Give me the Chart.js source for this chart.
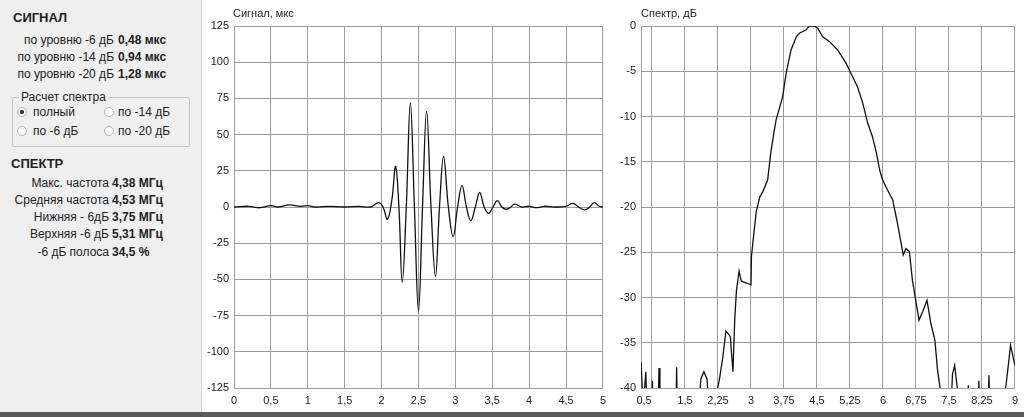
<!DOCTYPE html>
<html>
<head>
<meta charset="utf-8">
<script src="https://cdn.jsdelivr.net/npm/chart.js@4.4.1/dist/chart.umd.min.js"></script>
<style>
  html,body{margin:0;padding:0;background:#fff;}
  body{width:1024px;height:417px;position:relative;overflow:hidden;font-family:"Liberation Sans",Arial,sans-serif;color:#222;}
  #panel{position:absolute;left:0;top:0;width:201px;height:412px;background:#efefef;border-right:1px solid #d8d8d8;}
  .t{position:absolute;font-size:12px;white-space:nowrap;}
  .h{position:absolute;font-size:13px;font-weight:bold;}
  .lbl{position:absolute;font-size:12px;text-align:right;white-space:nowrap;}
  .val{position:absolute;font-size:12px;font-weight:bold;white-space:nowrap;}
  #grp{position:absolute;left:12px;top:97px;width:176px;height:48px;border:1px solid #c4c4c4;border-radius:2px;}
  #grpTitle{position:absolute;left:19px;top:90px;font-size:12px;background:#efefef;padding:0 2px;}
  .radio{position:absolute;width:8px;height:8px;border-radius:50%;border:1px solid #b8b8b8;background:#fafafa;}
  .radio.on::after{content:"";position:absolute;left:2px;top:2px;width:4px;height:4px;border-radius:50%;background:#222;}
  .ctitle{position:absolute;font-size:11px;color:#222;}
  #bottom{position:absolute;left:0;top:412px;width:1024px;height:5px;background:#5a5a5a;}
  .box{position:absolute;top:0;height:412px;}
</style>
</head>
<body>
<div id="panel">
  <div class="h" style="left:13px;top:10px;">СИГНАЛ</div>
  <div class="lbl" style="right:87px;top:33px;">по уровню -6 дБ</div><div class="val" style="left:118px;top:33px;">0,48 мкс</div>
  <div class="lbl" style="right:87px;top:50px;">по уровню -14 дБ</div><div class="val" style="left:118px;top:50px;">0,94 мкс</div>
  <div class="lbl" style="right:87px;top:67px;">по уровню -20 дБ</div><div class="val" style="left:118px;top:67px;">1,28 мкс</div>
  <div id="grp"></div>
  <div id="grpTitle">Расчет спектра</div>
  <div class="radio on" style="left:17px;top:107px;"></div><div class="t" style="left:33px;top:105px;">полный</div>
  <div class="radio" style="left:104px;top:107px;"></div><div class="t" style="left:118px;top:105px;">по -14 дБ</div>
  <div class="radio" style="left:17px;top:126px;"></div><div class="t" style="left:33px;top:124px;">по -6 дБ</div>
  <div class="radio" style="left:104px;top:126px;"></div><div class="t" style="left:118px;top:124px;">по -20 дБ</div>
  <div class="h" style="left:11px;top:156px;">СПЕКТР</div>
  <div class="lbl" style="right:92px;top:176px;">Макс. частота</div><div class="val" style="left:112px;top:176px;">4,38 МГц</div>
  <div class="lbl" style="right:92px;top:193px;">Средняя частота</div><div class="val" style="left:112px;top:193px;">4,53 МГц</div>
  <div class="lbl" style="right:92px;top:210px;">Нижняя - 6дБ</div><div class="val" style="left:112px;top:210px;">3,75 МГц</div>
  <div class="lbl" style="right:92px;top:227px;">Верхняя -6 дБ</div><div class="val" style="left:112px;top:227px;">5,31 МГц</div>
  <div class="lbl" style="right:92px;top:245px;">-6 дБ полоса</div><div class="val" style="left:112px;top:245px;">34,5 %</div>
</div>

<div class="box" style="left:202px;width:410px;"><canvas id="sig" width="410" height="412"></canvas></div>
<div class="box" style="left:612px;width:412px;"><canvas id="spec" width="412" height="412"></canvas></div>
<div class="ctitle" style="left:233px;top:7px;">Сигнал, мкс</div>
<div class="ctitle" style="left:641px;top:7px;">Спектр, дБ</div>
<div id="bottom"></div>

<script>
// signal, time in us / amplitude
const sigT = [0,0.2,0.35,0.5,0.6,0.75,0.9,1.0,1.1,1.3,1.5,1.7,1.85,1.96,2.02,2.08,2.14,2.19,2.235,2.28,2.335,2.39,2.445,2.5,2.555,2.61,2.67,2.73,2.785,2.84,2.905,2.97,3.03,3.09,3.15,3.21,3.27,3.33,3.39,3.45,3.51,3.57,3.63,3.69,3.75,3.8,3.9,4.0,4.1,4.2,4.35,4.5,4.59,4.67,4.75,4.82,4.88,4.95,5.0];
const sigV = [0,0.5,-0.5,1,0,1.5,0.5,1,0,0.5,0,0.5,0,3,0,-8.5,5,28,0,-52,0,72,0,-72,0,66,0,-48,0,35,0,-20.5,0,15,0,-9.5,0,10,0,-4.4,0,4.4,0,-1.6,0,2,0,0.5,-0.5,0.5,0,0.5,2.5,0,-2,0,3,0.5,0];

// spectrum, MHz / dB
const specF = [0.5,0.55,0.61,0.64,0.74,0.76,0.78,0.88,0.91,0.93,1.29,1.31,1.33,1.82,1.86,1.93,2.0,2.04,2.2,2.25,2.29,2.36,2.43,2.48,2.53,2.59,2.63,2.67,2.73,2.78,2.9,3.0,3.01,3.05,3.12,3.2,3.27,3.38,3.45,3.52,3.57,3.72,3.8,3.91,4.03,4.1,4.25,4.33,4.45,4.52,4.63,4.78,4.97,5.16,5.31,5.42,5.54,5.65,5.76,5.85,5.93,5.99,6.1,6.22,6.33,6.46,6.52,6.6,6.67,6.82,6.9,7.0,7.09,7.18,7.24,7.29,7.33,7.54,7.58,7.63,7.69,7.72,7.92,7.94,7.96,8.16,8.18,8.2,8.38,8.41,8.43,8.75,8.79,8.9,9.0];
const specDb = [-37.1,-42,-38.2,-44,-44,-39.2,-44,-44,-37.8,-44,-44,-37.7,-44,-42,-39,-38.2,-39,-42,-41.5,-39.9,-38.8,-36.6,-33.7,-34,-34.3,-38.2,-32.5,-29.2,-27.1,-28.2,-28.4,-28.6,-25.5,-23.6,-20.5,-18.9,-18.3,-17,-14,-11.8,-10.4,-7.8,-5.2,-2.65,-1.2,-0.8,-0.44,0,0,-0.26,-1.2,-1.7,-2.65,-4.1,-5.6,-6.7,-8.5,-10.7,-12.2,-14,-16,-17,-18.1,-19.2,-21.8,-25.3,-24.6,-24.9,-28.1,-32.5,-31.6,-30.3,-32.9,-34.7,-38,-39.7,-43,-43,-38.5,-37.5,-40,-43,-43,-39.7,-43,-43,-39.2,-43,-43,-38.6,-43,-43,-40,-35.3,-37.5];

const GRID = '#9c9c9c';
const FONT = { family: '"Liberation Sans", Arial, sans-serif', size: 11 };
const comma = v => String(v).replace('.', ',');

function makeChart(id, xs, ys, opt){
  const pts = xs.map((x,i)=>({x, y: ys[i]}));
  return new Chart(document.getElementById(id), {
    type: 'line',
    data: { datasets: [{ data: pts, borderColor: '#111', borderWidth: 1.3, pointRadius: 0, tension: opt.tension, fill: false }] },
    options: {
      responsive: false, animation: false, devicePixelRatio: 1,
      layout: { padding: { left: 0, top: 26, right: opt.right, bottom: 0 } },
      plugins: { legend: { display: false }, tooltip: { enabled: false } },
      scales: {
        x: {
          type: 'linear', min: opt.xMin, max: opt.xMax,
          afterFit: s => { s.height = 24; },
          afterBuildTicks: opt.xTicks ? (s => { s.ticks = opt.xTicks.map(v => ({ value: v })); }) : undefined,
          grid: { color: GRID, drawTicks: false },
          border: { color: GRID },
          ticks: { stepSize: opt.xStep, padding: 6, color: '#222', font: FONT, maxRotation: 0, autoSkip: false, callback: opt.xLabel }
        },
        y: {
          min: opt.yMin, max: opt.yMax,
          afterFit: s => { s.width = opt.left; },
          grid: { color: GRID, drawTicks: false },
          border: { color: GRID },
          ticks: { stepSize: opt.yStep, padding: 5, color: '#222', font: FONT, callback: v => comma(v) }
        }
      }
    }
  });
}

makeChart('sig', sigT, sigV, {
  tension: 0.4, left: 32, right: 5,
  xMin: 0, xMax: 5, xStep: 0.5, yMin: -125, yMax: 125, yStep: 25,
  xLabel: v => comma(v)
});

const specTicks = [0.5,0.75,1.5,2.25,3,3.75,4.5,5.25,6,6.75,7.5,8.25,9];
makeChart('spec', specF, specDb, {
  tension: 0, left: 29, right: 8,
  xMin: 0.5, xMax: 9, xStep: 0.75, yMin: -40, yMax: 0, yStep: 5,
  xTicks: specTicks,
  xLabel: v => v === 0.75 ? '' : (v === 0.5 ? '  ' + comma(v) : comma(v))
});
</script>
</body>
</html>
